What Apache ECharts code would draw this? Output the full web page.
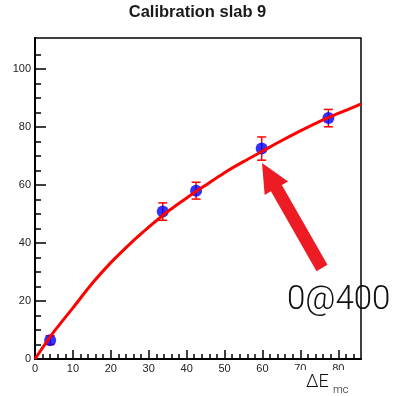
<!DOCTYPE html>
<html><head><meta charset="utf-8">
<script src="https://cdn.jsdelivr.net/npm/echarts@6/dist/echarts.min.js"></script>
<style>html,body{margin:0;padding:0;background:#fff}#c{width:395px;height:396px}</style>
</head><body><div id="c"></div>
<script>
// ---- data ----
var title = "Calibration slab 9";
var pointX = [4.0, 33.7, 42.5, 59.8, 77.4];
var pointY = [6.5, 50.8, 58.0, 72.5, 83.0];
var pointErr = [1.5, 3.0, 2.9, 4.0, 3.0];
var curveX = [0, 5, 10, 15, 20, 25, 30, 35, 40, 45, 50, 55, 60, 65, 70, 75, 80, 85, 86];
var curveY = [0, 9.4, 17.6, 25.9, 33.2, 39.6, 45.4, 50.8, 55.5, 59.9, 64.2, 68.0, 71.6, 75.2, 78.6, 81.8, 84.6, 87.3, 87.8];
var xMajor = [0, 10, 20, 30, 40, 50, 60, 70, 80];
var xMinor = [2,4,6,8,12,14,16,18,22,24,26,28,32,34,36,38,42,44,46,48,52,54,56,58,62,64,66,68,72,74,76,78,82,84];
var yMajor = [0, 20, 40, 60, 80, 100];
var yMinor = [5,10,15,25,30,35,45,50,55,65,70,75,85,90,95,105];
var annotationText = "0@400";
var xTitleMain = "\u0394E";
var xTitleSub = "mc";

var chart = echarts.init(document.getElementById('c'), null, {renderer: 'canvas'});
var X_MIN = 0, X_MAX = 86, Y_MIN = 0, Y_MAX = 110.6;
var lblFont = {fontFamily: 'Liberation Sans, Arial, sans-serif', fontSize: 11, color: '#222'};

var curveData = curveX.map(function (x, i) { return [x, curveY[i]]; });
var pts = pointX.map(function (x, i) { return [x, pointY[i], pointErr[i]]; });

var option = {
  animation: false,
  backgroundColor: '#fff',
  title: {text: title, left: 'center', top: -1,
    textStyle: {fontFamily: 'Liberation Sans, Arial, sans-serif', fontSize: 16.5, fontWeight: 'bold', color: '#1a1a1a'}},
  grid: {left: 35, top: 38, right: 34, bottom: 37, show: true, borderColor: '#000', borderWidth: 1.5, backgroundColor: 'transparent'},
  xAxis: [
    {type: 'value', min: X_MIN, max: X_MAX, position: 'bottom',
     axisLine: {show: true, onZero: false, lineStyle: {color: '#000', width: 2}},
     axisTick: {show: true, inside: true, length: 9, customValues: xMajor, lineStyle: {color: '#000', width: 1.5}},
     axisLabel: {show: true, customValues: xMajor, margin: 4, ...lblFont},
     splitLine: {show: false}},
    {type: 'value', min: X_MIN, max: X_MAX, position: 'bottom',
     axisLine: {show: false},
     axisTick: {show: true, inside: true, length: 5, customValues: xMinor, lineStyle: {color: '#000', width: 1.5}},
     axisLabel: {show: false}, splitLine: {show: false}}
  ],
  yAxis: [
    {type: 'value', min: Y_MIN, max: Y_MAX, position: 'left',
     axisLine: {show: true, onZero: false, lineStyle: {color: '#000', width: 2}},
     axisTick: {show: true, inside: true, length: 11, customValues: yMajor, lineStyle: {color: '#000', width: 1.5}},
     axisLabel: {show: true, customValues: yMajor, margin: 4, ...lblFont},
     splitLine: {show: false}},
    {type: 'value', min: Y_MIN, max: Y_MAX, position: 'left',
     axisLine: {show: false},
     axisTick: {show: true, inside: true, length: 6, customValues: yMinor, lineStyle: {color: '#000', width: 1.5}},
     axisLabel: {show: false}, splitLine: {show: false}}
  ],
  series: [
    {type: 'custom', name: 'err', xAxisIndex: 0, yAxisIndex: 0, z: 2,
     data: pts,
     renderItem: function (params, api) {
       var x = api.value(0), y = api.value(1), e = api.value(2);
       var top = api.coord([x, y + e]), bot = api.coord([x, y - e]);
       var cw = 4.5;
       var st = {stroke: '#ff0000', lineWidth: 1.5};
       return {type: 'group', children: [
         {type: 'line', shape: {x1: top[0], y1: top[1], x2: bot[0], y2: bot[1]}, style: st},
         {type: 'line', shape: {x1: top[0] - cw, y1: top[1], x2: top[0] + cw, y2: top[1]}, style: st},
         {type: 'line', shape: {x1: bot[0] - cw, y1: bot[1], x2: bot[0] + cw, y2: bot[1]}, style: st}
       ]};
     }},
    {type: 'scatter', name: 'points', xAxisIndex: 0, yAxisIndex: 0, z: 3,
     data: pts.map(function (p) { return [p[0], p[1]]; }),
     symbol: 'circle', symbolSize: 12, itemStyle: {color: '#0000ff'}},
    {type: 'line', name: 'fit', xAxisIndex: 0, yAxisIndex: 0, z: 4,
     data: curveData, smooth: 0.3, showSymbol: false, symbol: 'none',
     lineStyle: {color: '#ff0000', width: 3}}
  ]
};
chart.setOption(option);

// annotation arrow (pasted-in overlay) pointing at the ~60 point
function arrowPoly(tip, tail, shaftHalf, headHalf, headLen) {
  var dx = tip[0] - tail[0], dy = tip[1] - tail[1];
  var L = Math.sqrt(dx*dx + dy*dy); var ux = dx / L, uy = dy / L; var px = -uy, py = ux;
  var bx = tip[0] - ux * headLen, by = tip[1] - uy * headLen;
  return [
    [tail[0] + px*shaftHalf, tail[1] + py*shaftHalf],
    [bx + px*shaftHalf, by + py*shaftHalf],
    [bx + px*headHalf, by + py*headHalf],
    tip,
    [bx - px*headHalf, by - py*headHalf],
    [bx - px*shaftHalf, by - py*shaftHalf],
    [tail[0] - px*shaftHalf, tail[1] - py*shaftHalf]
  ];
}
var thinFont = 'Roboto, "Open Sans", sans-serif';
chart.setOption({graphic: [
  {type: 'rect', z: 90, shape: {x: 296, y: 370, width: 62, height: 26}, style: {fill: '#fff'}},
  {type: 'polygon', z: 100, shape: {points: arrowPoly([262, 163], [322, 268], 6.3, 13.5, 29)},
   style: {fill: '#ed1c24'}},
  {type: 'text', z: 100, x: 287, y: 301,
   style: {text: annotationText, fontFamily: thinFont, fontWeight: 300, fontSize: 33, fill: '#111', verticalAlign: 'middle', align: 'left'}},
  {type: 'text', z: 100, x: 306, y: 382,
   style: {text: xTitleMain, fontFamily: thinFont, fontWeight: 300, fontSize: 18, fill: '#111', verticalAlign: 'middle', align: 'left'}},
  {type: 'text', z: 100, x: 333, y: 390,
   style: {text: xTitleSub, fontFamily: thinFont, fontWeight: 300, fontSize: 11, fill: '#111', verticalAlign: 'middle', align: 'left'}}
]});
</script></body></html>
